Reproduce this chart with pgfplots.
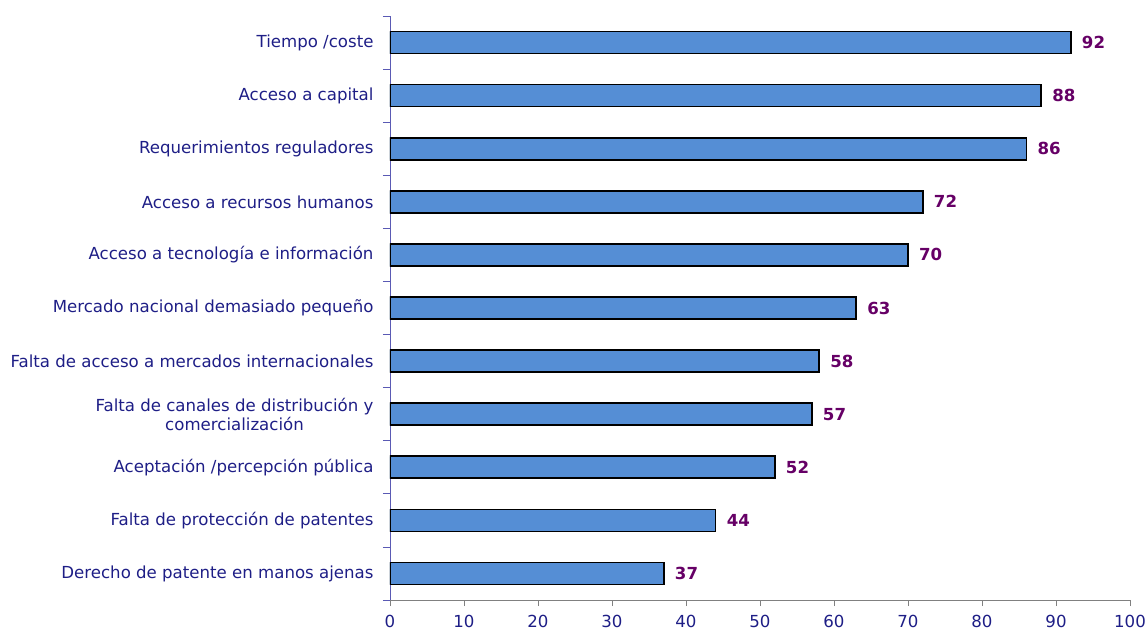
\documentclass[border=0pt]{standalone}
\usepackage{pgfplots}
\pgfplotsset{compat=1.18}
\usepackage{fontspec}
\setmainfont{DejaVu Sans}
\definecolor{barblue}{HTML}{558ED5}
\definecolor{navytext}{HTML}{1E1E86}
\definecolor{valpurple}{HTML}{660066}
\definecolor{yaxiscol}{HTML}{5A5AB4}
\begin{document}
\begin{tikzpicture}
\begin{axis}[
  scale only axis, width=740pt, height=584pt,
  xbar, bar width=22pt,
  xmin=0, xmax=100, ymin=-0.5, ymax=10.5,
  axis lines*=left,
  x axis line style={draw=gray, line width=0.8pt},
  y axis line style={draw=yaxiscol, line width=0.8pt},
  tick align=outside,
  xtick={0,10,...,100},
  major x tick style={draw=gray, line width=0.8pt},
  major tick length=6pt,
  ytick={0,...,10},
  major y tick style={draw=none},
  minor ytick={-0.5,0.5,...,10.5},
  minor y tick style={draw=yaxiscol, line width=0.8pt},
  minor tick length=7pt,
  /pgf/number format/assume math mode=true,
  ticklabel style={font=\fontsize{16.6}{19}\selectfont, text=navytext},
  yticklabel style={align=center, xshift=-7pt},
  xticklabel style={yshift=-6pt},
  yticklabels={Derecho de patente en manos ajenas,
    Falta de protección de patentes,
    Aceptación /percepción pública,
    {Falta de canales de distribución y\\comercialización},
    Falta de acceso a mercados internacionales,
    Mercado nacional demasiado pequeño,
    Acceso a tecnología e información,
    Acceso a recursos humanos,
    Requerimientos reguladores,
    Acceso a capital,
    Tiempo /coste},
  nodes near coords,
  nodes near coords style={anchor=west, xshift=7pt, font=\fontsize{16.6}{19}\selectfont\bfseries, text=valpurple},
]
\addplot[fill=barblue, draw=black, line width=1.7pt] coordinates {
  (37,0) (44,1) (52,2) (57,3) (58,4) (63,5) (70,6) (72,7) (86,8) (88,9) (92,10)};
\end{axis}
\pgfresetboundingbox
\path ([shift={(-390pt,-30pt)}]current axis.south west) rectangle ([shift={(18pt,16pt)}]current axis.north east);
\end{tikzpicture}
\end{document}
